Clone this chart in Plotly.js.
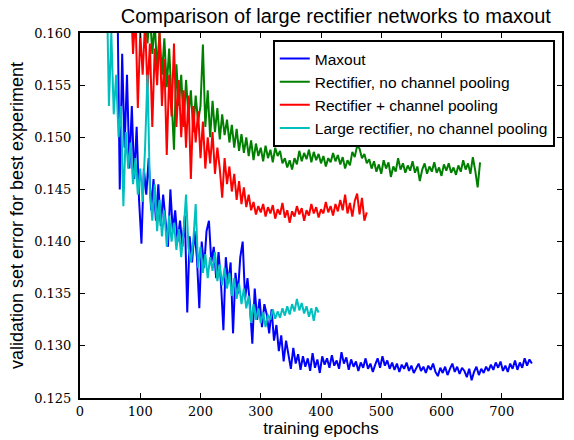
<!DOCTYPE html>
<html>
<head>
<meta charset="utf-8">
<script src="https://cdn.plot.ly/plotly-3.0.1.min.js"></script>
<style>html,body{margin:0;padding:0;background:#fff;}#chart{width:574px;height:440px;}</style>
</head>
<body>
<div id="chart"></div>
<script>
// Series names
const seriesNames = ["Maxout", "Rectifier, no channel pooling", "Rectifier + channel pooling", "Large rectifier, no channel pooling"];

// Epoch sampling (start epoch and step) for each series
const maxoutStart = 62, rectNoPoolStart = 84, rectPoolStart = 84, largeRectStart = 44;
const epochStep = 4;

// Validation error values
const maxout = [
0.1640,0.1450,0.1580,0.1490,0.1560,0.1470,0.1530,0.1460,0.1510,0.1440,
0.1398,0.1470,0.1445,0.1480,0.1430,0.1460,0.1420,0.1455,0.1415,0.1445,
0.1420,0.1395,0.1450,0.1410,0.1430,0.1400,0.1420,0.1395,0.1425,0.1332,
0.1405,0.1380,0.1410,0.1385,0.1336,0.1400,0.1375,0.1410,0.1420,0.1380,
0.1395,0.1365,0.1390,0.1360,0.1315,0.1385,0.1360,0.1380,0.1312,0.1370,
0.1350,0.1385,0.1400,0.1345,0.1365,0.1340,0.1302,0.1355,0.1325,0.1345,
0.1318,0.1340,0.1330,0.1312,0.1335,0.1305,0.1320,0.1295,0.1310,0.1285,
0.1305,0.1290,0.1278,0.1298,0.1283,0.1292,0.1277,0.1290,0.1280,0.1288,
0.1276,0.1293,0.1279,0.1287,0.1274,0.1290,0.1282,0.1288,0.1279,0.1291,
0.1281,0.1286,0.1278,0.1294,0.1283,0.1289,0.1277,0.1287,0.1280,0.1285,
0.1276,0.1284,0.1279,0.1288,0.1278,0.1283,0.1275,0.1282,0.1288,0.1279,
0.1290,0.1281,0.1286,0.1278,0.1284,0.1277,0.1283,0.1275,0.1282,0.1278,
0.1284,0.1276,0.1281,0.1274,0.1279,0.1283,0.1276,0.1280,0.1274,0.1281,
0.1277,0.1283,0.1275,0.1271,0.1279,0.1274,0.1280,0.1272,0.1278,0.1283,
0.1275,0.1280,0.1273,0.1279,0.1276,0.1270,0.1278,0.1267,0.1275,0.1280,
0.1272,0.1278,0.1274,0.1280,0.1276,0.1282,0.1277,0.1284,0.1279,0.1285,
0.1276,0.1281,0.1275,0.1283,0.1278,0.1286,0.1277,0.1284,0.1279,0.1288,
0.1281,0.1287,0.1283
];

const rectNoPool = [
0.1650,0.1600,0.1640,0.1620,0.1655,0.1610,0.1630,0.1590,0.1620,0.1580,
0.1610,0.1565,0.1600,0.1560,0.1595,0.1548,0.1585,0.1530,0.1488,0.1570,
0.1530,0.1560,0.1510,0.1555,0.1520,0.1545,0.1505,0.1540,0.1515,0.1530,
0.1589,0.1510,0.1545,0.1500,0.1535,0.1505,0.1528,0.1498,0.1522,0.1502,
0.1517,0.1495,0.1512,0.1490,0.1508,0.1487,0.1503,0.1485,0.1500,0.1482,
0.1497,0.1478,0.1494,0.1482,0.1490,0.1477,0.1492,0.1480,0.1488,0.1476,
0.1490,0.1482,0.1487,0.1475,0.1480,0.1471,0.1478,0.1469,0.1480,0.1474,
0.1487,0.1477,0.1485,0.1479,0.1488,0.1476,0.1486,0.1478,0.1484,0.1475,
0.1482,0.1472,0.1480,0.1476,0.1485,0.1477,0.1483,0.1474,0.1481,0.1470,
0.1478,0.1473,0.1486,0.1481,0.1492,0.1489,0.1480,0.1484,0.1475,0.1479,
0.1470,0.1477,0.1467,0.1474,0.1465,0.1478,0.1470,0.1476,0.1462,0.1472,
0.1467,0.1480,0.1469,0.1475,0.1466,0.1473,0.1468,0.1477,0.1466,0.1472,
0.1458,0.1469,0.1475,0.1465,0.1472,0.1467,0.1476,0.1466,0.1471,0.1463,
0.1474,0.1468,0.1475,0.1466,0.1471,0.1464,0.1473,0.1467,0.1478,0.1469,
0.1475,0.1465,0.1481,0.1468,0.1452,0.1476
];

const rectPool = [
0.1640,0.1580,0.1620,0.1528,0.1600,0.1560,0.1610,0.1545,0.1590,0.1510,
0.1585,0.1550,0.1600,0.1530,0.1575,0.1483,0.1560,0.1520,0.1590,0.1510,
0.1555,0.1500,0.1545,0.1490,0.1540,0.1460,0.1530,0.1495,0.1525,0.1480,
0.1515,0.1470,0.1500,0.1475,0.1505,0.1465,0.1490,0.1470,0.1442,0.1480,
0.1455,0.1472,0.1448,0.1465,0.1440,0.1458,0.1436,0.1452,0.1433,0.1445,
0.1430,0.1438,0.1426,0.1434,0.1428,0.1436,0.1424,0.1433,0.1427,0.1435,
0.1422,0.1431,0.1426,0.1437,0.1423,0.1430,0.1418,0.1429,0.1424,0.1434,
0.1426,0.1432,0.1420,0.1430,0.1425,0.1436,0.1427,0.1433,0.1423,0.1431,
0.1427,0.1438,0.1428,0.1434,0.1425,0.1436,0.1429,0.1440,0.1430,0.1445,
0.1427,0.1437,0.1424,0.1439,0.1446,0.1426,0.1442,0.1420,0.1428
];

const largeRect = [
0.1660,0.1530,0.1600,0.1522,0.1560,0.1500,0.1530,0.1434,0.1505,0.1470,
0.1495,0.1455,0.1480,0.1445,0.1470,0.1438,0.1490,0.1560,0.1450,0.1420,
0.1455,0.1410,0.1440,0.1405,0.1430,0.1395,0.1425,0.1400,0.1418,0.1392,
0.1412,0.1385,0.1410,0.1445,0.1395,0.1380,0.1400,0.1436,0.1375,0.1395,
0.1370,0.1388,0.1365,0.1385,0.1372,0.1390,0.1362,0.1378,0.1358,0.1375,
0.1355,0.1370,0.1348,0.1365,0.1345,0.1360,0.1340,0.1355,0.1336,0.1348,
0.1322,0.1340,0.1325,0.1336,0.1322,0.1332,0.1318,0.1330,0.1325,0.1335,
0.1326,0.1333,0.1327,0.1336,0.1329,0.1338,0.1330,0.1340,0.1333,0.1345,
0.1334,0.1341,0.1331,0.1338,0.1328,0.1336,0.1324,0.1337,0.1332
];

// Tick values
const xTicks = [0,100,200,300,400,500,600,700,800];
const yTicks = [0.125,0.130,0.135,0.140,0.145,0.150,0.155,0.160];

const colors = ["#0000ff", "#008000", "#ff0000", "#00bfbf"];
const data = [
  {y: maxout, x0: maxoutStart, dx: epochStep, name: seriesNames[0]},
  {y: rectNoPool, x0: rectNoPoolStart, dx: epochStep, name: seriesNames[1]},
  {y: rectPool, x0: rectPoolStart, dx: epochStep, name: seriesNames[2]},
  {y: largeRect, x0: largeRectStart, dx: epochStep, name: seriesNames[3]}
].map((t, i) => Object.assign(t, {type: "scatter", mode: "lines", line: {color: colors[i], width: 2}}));

const serif = "DejaVu Serif";
const sans = "Liberation Sans";
const tickFont = {family: serif, size: 13, color: "#000"};
const layout = {
  width: 574, height: 440,
  margin: {l: 80, r: 12, t: 33, b: 42},
  paper_bgcolor: "#fff", plot_bgcolor: "#fff",
  font: {family: sans, color: "#000"},
  title: {text: "Comparison of large rectifier networks to maxout", font: {family: sans, size: 20, color: "#000"}, x: 0.585, xanchor: "center", y: 0.963, yanchor: "middle"},
  xaxis: {
    range: [0, 800], tickvals: xTicks, ticktext: xTicks.map(String),
    ticks: "inside", ticklen: 5, tickwidth: 1, tickcolor: "#000",
    showline: true, linecolor: "#000", linewidth: 2, mirror: "allticks",
    showgrid: false, zeroline: false, tickfont: tickFont,
    title: {text: "training epochs", font: {family: sans, size: 17, color: "#000"}, standoff: 5}
  },
  yaxis: {
    range: [0.125, 0.160], tickvals: yTicks, ticktext: yTicks.map(v => v.toFixed(3)),
    ticks: "inside", ticklen: 5, tickwidth: 1, tickcolor: "#000",
    showline: true, linecolor: "#000", linewidth: 2, mirror: "allticks",
    showgrid: false, zeroline: false, tickfont: tickFont, ticklabelstandoff: 4,
    title: {text: "validation set error for best experiment", font: {family: sans, size: 18, color: "#000"}, standoff: 6}
  },
  legend: {
    x: 0.985, y: 0.981, xanchor: "right", yanchor: "top",
    bgcolor: "#fff", bordercolor: "#000", borderwidth: 2,
    font: {family: sans, size: 15.5, color: "#000"},
    tracegroupgap: 0
  },
  showlegend: true
};

Plotly.newPlot("chart", data, layout, {staticPlot: true, displayModeBar: false});
</script>
</body>
</html>
